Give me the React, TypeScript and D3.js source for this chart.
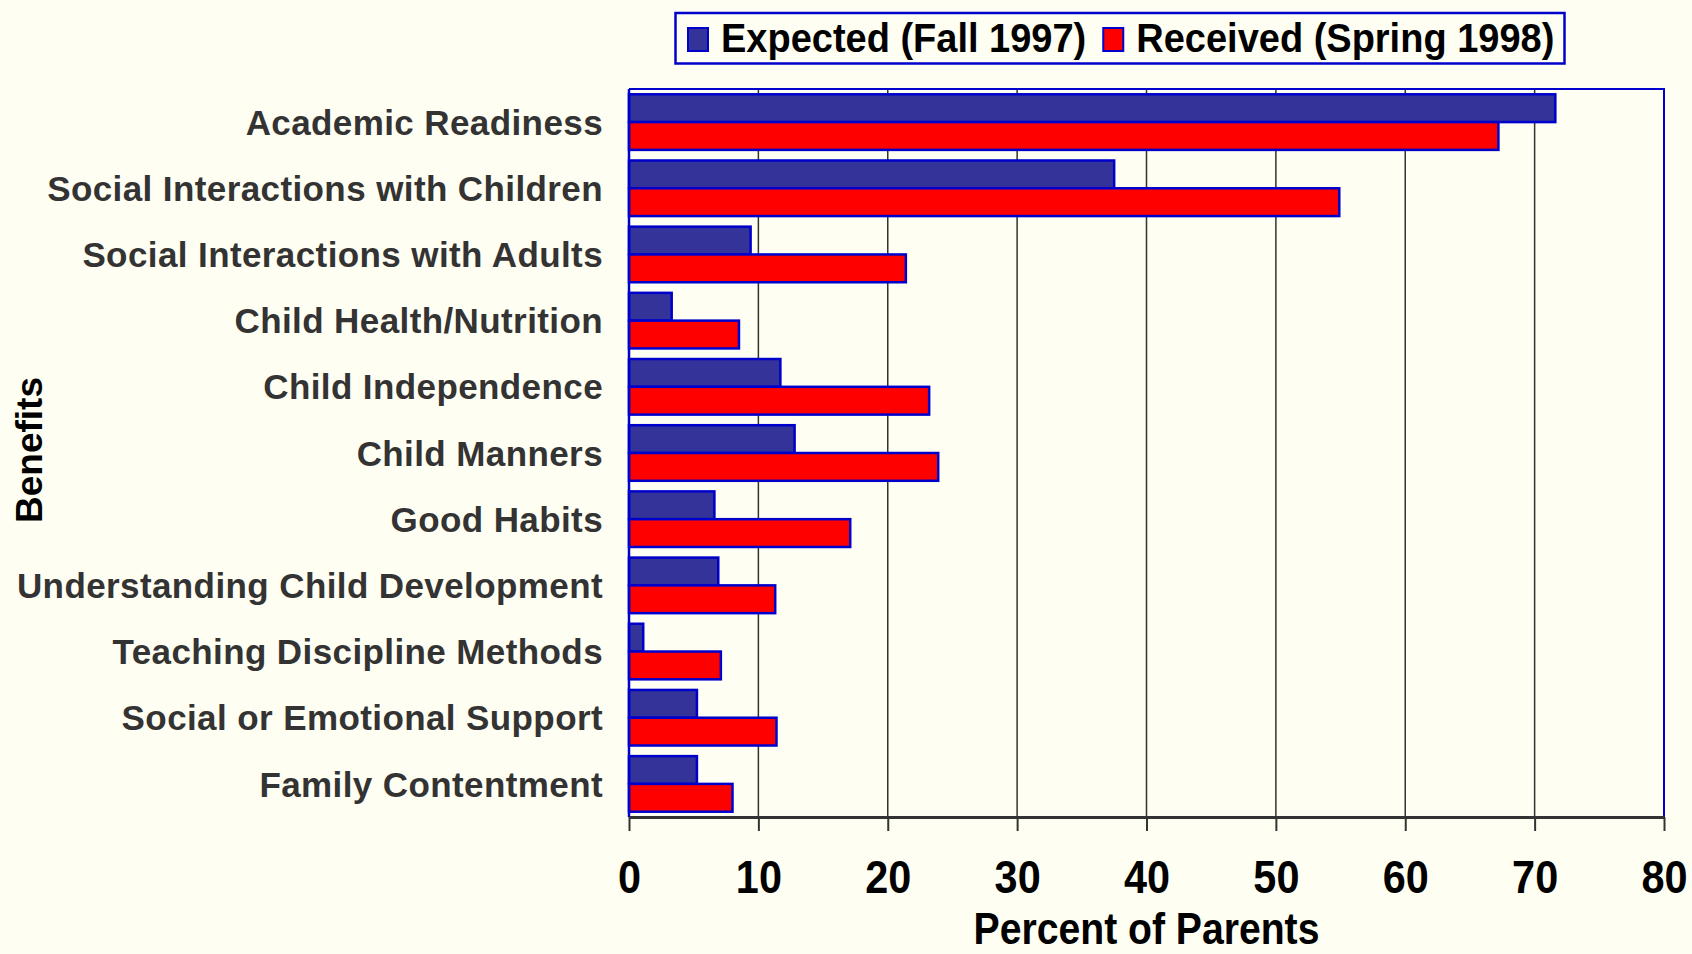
import React, { useEffect, useRef } from 'react';
import * as d3 from 'd3';

const categories = [
  'Academic Readiness',
  'Social Interactions with Children',
  'Social Interactions with Adults',
  'Child Health/Nutrition',
  'Child Independence',
  'Child Manners',
  'Good Habits',
  'Understanding Child Development',
  'Teaching Discipline Methods',
  'Social or Emotional Support',
  'Family Contentment',
];

const expected = [71.6, 37.5, 9.4, 3.3, 11.7, 12.8, 6.6, 6.9, 1.1, 5.25, 5.25];
const received = [67.2, 54.9, 21.4, 8.5, 23.2, 23.9, 17.1, 11.3, 7.1, 11.4, 8.0];

const seriesNames = ['Expected (Fall 1997)', 'Received (Spring 1998)'];
const seriesColors = ['#333399', '#ff0000'];
const xTicks = [0, 10, 20, 30, 40, 50, 60, 70, 80];

const W = 1692;
const H = 954;
const BG = '#fffef2';
const FONT = '"Liberation Sans", Arial, sans-serif';

const Chart: React.FC = () => {
  const ref = useRef<SVGSVGElement | null>(null);

  useEffect(() => {
    if (!ref.current) return;
    const svg = d3.select(ref.current);
    svg.selectAll('*').remove();

    const left = 629;
    const right = 1664;
    const top = 89;
    const bottom = 817;

    svg.append('rect').attr('width', W).attr('height', H).attr('fill', BG);

    const x = d3.scaleLinear().domain([0, 80]).range([left, right]);
    const y = d3
      .scaleBand()
      .domain(categories)
      .range([top, bottom])
      .paddingInner(0.16)
      .paddingOuter(0.08);
    const sub = d3
      .scaleBand()
      .domain(seriesNames)
      .range([0, y.bandwidth()]);

    // gridlines
    svg
      .append('g')
      .selectAll('line')
      .data(xTicks.filter((t) => t > 0 && t < 80))
      .enter()
      .append('line')
      .attr('x1', (d) => x(d))
      .attr('x2', (d) => x(d))
      .attr('y1', top)
      .attr('y2', bottom)
      .attr('stroke', '#333')
      .attr('stroke-width', 1.5);

    // top & right border
    svg
      .append('path')
      .attr('d', `M${left},${top}H${right}V${bottom}`)
      .attr('fill', 'none')
      .attr('stroke', '#0000cc')
      .attr('stroke-width', 2);

    // bars
    const rows = categories.map((c, i) => ({ c, vals: [expected[i], received[i]] }));
    const g = svg
      .append('g')
      .selectAll('g')
      .data(rows)
      .enter()
      .append('g')
      .attr('transform', (d) => `translate(0,${y(d.c)})`);
    g.selectAll('rect')
      .data((d) => d.vals.map((v, k) => ({ v, k })))
      .enter()
      .append('rect')
      .attr('x', x(0))
      .attr('y', (d) => sub(seriesNames[d.k])!)
      .attr('width', (d) => x(d.v) - x(0))
      .attr('height', sub.bandwidth())
      .attr('fill', (d) => seriesColors[d.k])
      .attr('stroke', '#0000cc')
      .attr('stroke-width', 2.5);

    // left axis line
    svg
      .append('line')
      .attr('x1', left)
      .attr('x2', left)
      .attr('y1', top)
      .attr('y2', bottom)
      .attr('stroke', '#0000cc')
      .attr('stroke-width', 2.5);

    // bottom axis
    const ax = svg
      .append('g')
      .attr('transform', `translate(0,${bottom})`)
      .call(
        d3
          .axisBottom(x)
          .tickValues(xTicks)
          .tickSizeInner(14)
          .tickSizeOuter(0)
          .tickPadding(29)
      );
    ax.select('.domain').attr('stroke', '#333').attr('stroke-width', 3);
    ax.selectAll('.tick line').attr('stroke', '#333').attr('stroke-width', 2);
    ax.selectAll('.tick text')
      .attr('font-family', FONT)
      .attr('font-size', 46)
      .attr('font-weight', 'bold')
      .attr('fill', '#000')
      .attr('transform', 'scale(0.9,1)');

    // category labels
    svg
      .append('g')
      .selectAll('text')
      .data(categories)
      .enter()
      .append('text')
      .attr('x', 603)
      .attr('y', (d) => y(d)! + y.bandwidth() / 2)
      .attr('dy', '0.36em')
      .attr('text-anchor', 'end')
      .attr('font-family', FONT)
      .attr('font-size', 35)
      .attr('font-weight', 'bold')
      .attr('letter-spacing', 0.4)
      .attr('fill', '#333')
      .text((d) => d);

    // axis titles
    svg
      .append('text')
      .attr('transform', `translate(${(left + right) / 2},944) scale(0.87,1)`)
      .attr('text-anchor', 'middle')
      .attr('font-family', FONT)
      .attr('font-size', 45)
      .attr('font-weight', 'bold')
      .attr('fill', '#000')
      .text('Percent of Parents');

    svg
      .append('text')
      .attr('transform', 'translate(42,450) rotate(-90)')
      .attr('text-anchor', 'middle')
      .attr('font-family', FONT)
      .attr('font-size', 37)
      .attr('font-weight', 'bold')
      .attr('fill', '#000')
      .text('Benefits');

    // legend
    const leg = svg.append('g');
    leg
      .append('rect')
      .attr('x', 675.5)
      .attr('y', 13)
      .attr('width', 889)
      .attr('height', 50.5)
      .attr('fill', BG)
      .attr('stroke', '#0000cc')
      .attr('stroke-width', 2.5);
    let lx = 688;
    seriesNames.forEach((name, k) => {
      leg
        .append('rect')
        .attr('x', lx)
        .attr('y', 28)
        .attr('width', 20)
        .attr('height', 23)
        .attr('fill', seriesColors[k])
        .attr('stroke', '#0000cc')
        .attr('stroke-width', 2);
      const t = leg
        .append('text')
        .attr('transform', `translate(${lx + 33},52) scale(0.95,1)`)
        .attr('font-family', FONT)
        .attr('font-size', 40)
        .attr('font-weight', 'bold')
        .attr('fill', '#000')
        .text(name);
      const tw = (t.node() as SVGTextElement).getComputedTextLength() * 0.95;
      lx = lx + 33 + tw + 17;
    });
  }, []);

  return <svg ref={ref} width={W} height={H} style={{ display: 'block' }} />;
};

export default function App() {
  return (
    <div style={{ position: 'absolute', left: 0, top: 0 }}>
      <Chart />
    </div>
  );
}
